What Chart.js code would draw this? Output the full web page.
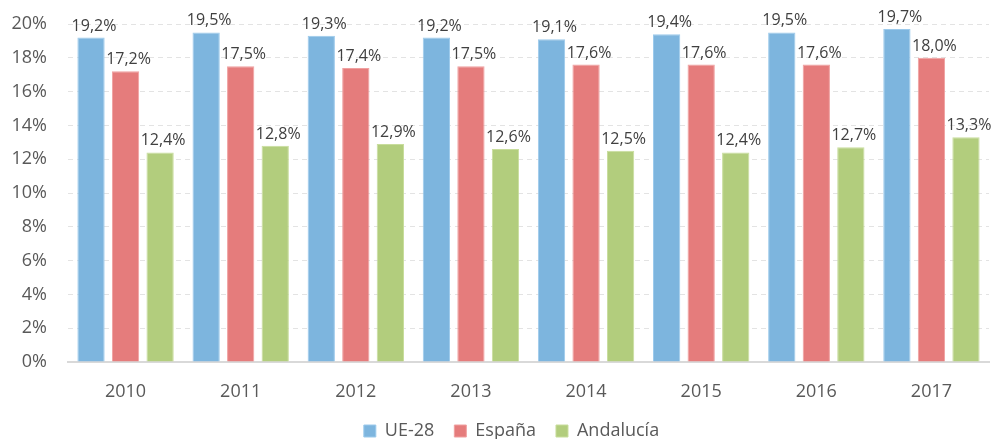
<!DOCTYPE html>
<html><head><meta charset="utf-8">
<script src="https://cdn.jsdelivr.net/npm/chart.js@4/dist/chart.umd.min.js"></script>
<style>html,body{margin:0;padding:0;background:#fff}#wrap{width:995px;height:439px}</style>
</head><body><div id="wrap"><canvas id="c"></canvas></div>
<script>
const categories = ['2010','2011','2012','2013','2014','2015','2016','2017'];
const ue28 = [19.2,19.5,19.3,19.2,19.1,19.4,19.5,19.7];
const espana = [17.2,17.5,17.4,17.5,17.6,17.6,17.6,18.0];
const andalucia = [12.4,12.8,12.9,12.6,12.5,12.4,12.7,13.3];
const seriesNames = ['UE-28','España','Andalucía'];

const FONT = '"Open Sans", sans-serif';
const fmt = v => v.toFixed(1).replace('.', ',') + '%';
const labelPlugin = {
  id: 'labels',
  afterLayout(chart) {
    if (chart.legend) { chart.legend.left += 13; chart.legend.right += 13; }
  },
  afterDatasetsDraw(chart) {
    const ctx = chart.ctx;
    ctx.save();
    ctx.font = '16px ' + FONT;
    ctx.fillStyle = '#404040';
    ctx.textAlign = 'center';
    ctx.textBaseline = 'alphabetic';
    chart.data.datasets.forEach((ds, i) => {
      chart.getDatasetMeta(i).data.forEach((bar, j) => {
        ctx.fillText(fmt(ds.data[j]), bar.x + 3, bar.y - 7);
      });
    });
    ctx.restore();
  }
};
const mk = (label, data, color, border) => ({label, data, backgroundColor: color, borderColor: border, borderWidth: 1, categoryPercentage: 0.9, barPercentage: 0.79});
new Chart(document.getElementById('c'), {
  type: 'bar',
  data: {
    labels: categories,
    datasets: [
      mk(seriesNames[0], ue28, '#7db5de', '#9ccaec'),
      mk(seriesNames[1], espana, '#e57c7c', '#f0a0a0'),
      mk(seriesNames[2], andalucia, '#b2cd7d', '#c8dd9c')
    ]
  },
  options: {
    responsive: true, maintainAspectRatio: false, animation: false,
    layout: {padding: {left: 8, right: 6, top: 24, bottom: -11}},
    plugins: {
      legend: {position: 'bottom', labels: {boxWidth: 12, boxHeight: 12, padding: 20, color: '#595959', font: {size: 18, family: FONT}}},
      tooltip: {enabled: false}
    },
    scales: {
      x: {
        grid: {display: false, drawTicks: false},
        border: {color: '#d9d9d9', width: 2},
        ticks: {color: '#595959', font: {size: 18, family: FONT}, padding: 19},
        afterFit: s => { s.height = 40; }
      },
      y: {
        min: 0, max: 20,
        grid: {color: '#e3e3e3', drawTicks: false},
        border: {display: false, dash: [5, 4]},
        ticks: {stepSize: 2, color: '#595959', padding: 21, font: {size: 18, family: FONT}, callback: v => v + '%'},
        afterFit: s => { s.width = 60; s.paddingTop = 0; s.paddingBottom = 0; }
      }
    }
  },
  plugins: [labelPlugin]
});
</script></body></html>
